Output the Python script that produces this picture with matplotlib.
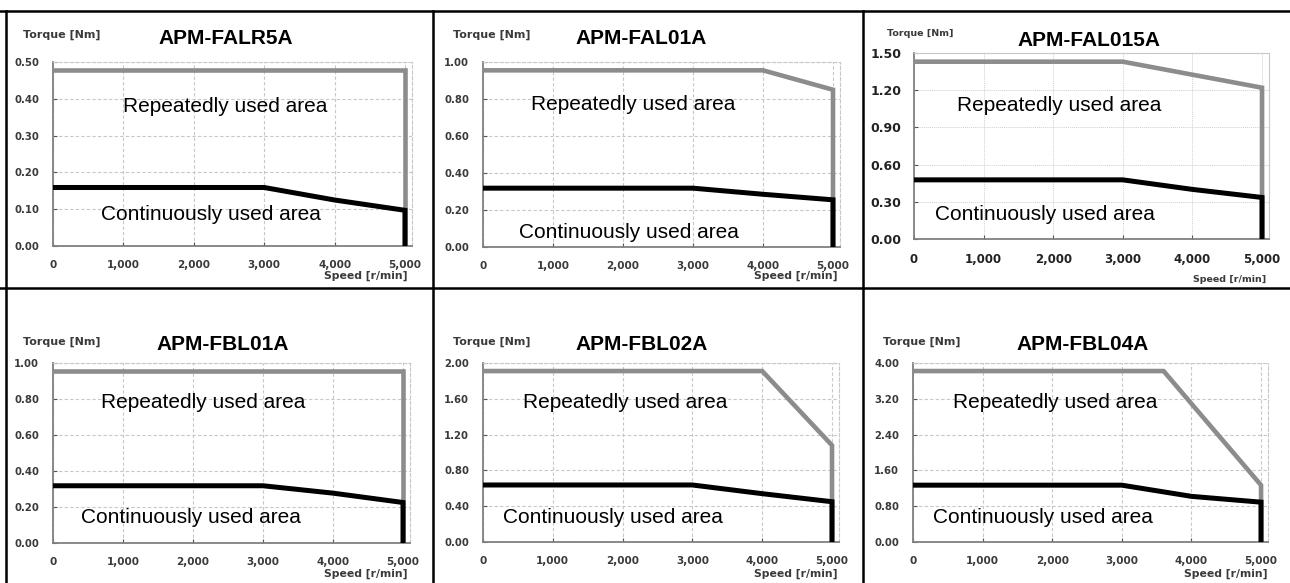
import matplotlib
matplotlib.use("Agg")
import matplotlib.pyplot as plt
from matplotlib.lines import Line2D

W, H = 1290, 583

# ---- data ----
models = ["APM-FALR5A", "APM-FAL01A", "APM-FAL015A",
          "APM-FBL01A", "APM-FBL02A", "APM-FBL04A"]

y_max = [0.50, 1.00, 1.50, 1.00, 2.00, 4.00]
y_step = [0.10, 0.20, 0.30, 0.20, 0.40, 0.80]
x_ticks = [0, 1000, 2000, 3000, 4000, 5000]

# repeatedly used (peak) torque curve
rep_speed = [
    [0, 5000, 5000],
    [0, 4000, 5000, 5000],
    [0, 3000, 5000, 5000],
    [0, 5000, 5000],
    [0, 4000, 5000, 5000],
    [0, 3600, 5000, 5000],
]
rep_torque = [
    [0.477, 0.477, 0.0],
    [0.955, 0.955, 0.85, 0.0],
    [1.43, 1.43, 1.22, 0.0],
    [0.955, 0.955, 0.0],
    [1.91, 1.91, 1.08, 0.0],
    [3.82, 3.82, 1.27, 0.0],
]

# continuously used (rated) torque curve
cont_speed = [0, 3000, 4000, 5000, 5000]
cont_torque = [
    [0.159, 0.159, 0.125, 0.097, 0.0],
    [0.318, 0.318, 0.285, 0.255, 0.0],
    [0.477, 0.477, 0.40, 0.335, 0.0],
    [0.318, 0.318, 0.277, 0.225, 0.0],
    [0.637, 0.637, 0.54, 0.45, 0.0],
    [1.27, 1.27, 1.02, 0.89, 0.0],
]

# label positions (axes fraction)
rep_label_pos = [(0.48, 0.76), (0.42, 0.77), (0.41, 0.72),
                 (0.42, 0.78), (0.40, 0.78), (0.40, 0.78)]
cont_label_pos = [(0.44, 0.17), (0.41, 0.08), (0.37, 0.13),
                  (0.385, 0.14), (0.365, 0.135), (0.365, 0.135)]

# ---- layout in pixels: axes box (left, top, right, bottom) ----
ax_boxes = [
    (53, 62, 412, 246),
    (483, 62, 840, 247),
    (914, 53, 1269, 239),
    (53, 363, 410, 543),
    (483, 363, 839, 542),
    (913, 363, 1268, 542),
]
title_xy = [(226, 39), (641, 39), (1089, 40), (223, 345), (642, 345), (1083, 345)]
torque_xy = [(23, 35), (453, 35), (887, 34), (23, 342), (453, 342), (883, 342)]
speed_xy = [(407, 276), (837, 276), (1266, 279), (407, 574), (837, 574), (1267, 574)]


def fx(x):
    return x / W


def fy(y):
    return 1 - y / H


fig = plt.figure(figsize=(W / 100, H / 100), dpi=100)
fig.patch.set_facecolor("white")

grey = "#8c8c8c"
grid_c = "#c8c8c8"
label_c = "#3a3a3a"

for i, m in enumerate(models):
    l, t, r, b = ax_boxes[i]
    ax = fig.add_axes([fx(l), fy(b), fx(r) - fx(l), fy(t) - fy(b)])
    special = (i == 2)

    ax.set_xlim(0, 5100)
    ax.set_ylim(0, y_max[i])
    yt = [round(k * y_step[i], 2) for k in range(6)]
    ax.set_yticks(yt)
    ax.set_xticks(x_ticks)
    ax.set_yticklabels([f"{v:.2f}" for v in yt])
    ax.set_xticklabels([f"{v:,}" for v in x_ticks])

    if special:
        ax.grid(True, color="#d0d0d0", linestyle=(0, (1, 1)), linewidth=0.7)
        fs_y, fs_x, tc = 9, 8.5, "#222222"
    else:
        ax.grid(True, color=grid_c, linestyle=(0, (3, 2)), linewidth=0.8)
        fs_y, fs_x, tc = 7.3, 7.5, label_c
    ax.set_axisbelow(True)

    for s in ("top", "right"):
        ax.spines[s].set_color(grid_c)
        ax.spines[s].set_linewidth(0.8)
        ax.spines[s].set_linestyle((0, (3, 2)) if not special else "-")
    for s in ("left", "bottom"):
        ax.spines[s].set_color("#808080")
        ax.spines[s].set_linewidth(1.3)

    ax.tick_params(axis="both", direction="in", length=3, width=0.8, color="#555555")
    ax.tick_params(axis="y", pad=10 if not special else 9, labelsize=fs_y, labelcolor=tc)
    ax.tick_params(axis="x", pad=10, labelsize=fs_x, labelcolor=tc)
    for lab in ax.get_xticklabels() + ax.get_yticklabels():
        lab.set_fontweight("bold")
        lab.set_family("DejaVu Sans")

    ax.plot(rep_speed[i], rep_torque[i], color=grey, lw=3.3,
            solid_joinstyle="miter", solid_capstyle="butt", zorder=3)
    ax.plot(cont_speed, cont_torque[i], color="black", lw=3.6,
            solid_joinstyle="miter", solid_capstyle="butt", zorder=4)

    ax.text(*rep_label_pos[i], "Repeatedly used area", transform=ax.transAxes,
            ha="center", va="center", fontsize=15, family="Liberation Sans", zorder=5)
    ax.text(*cont_label_pos[i], "Continuously used area", transform=ax.transAxes,
            ha="center", va="center", fontsize=15, family="Liberation Sans", zorder=5)

    fig.text(fx(title_xy[i][0]), fy(title_xy[i][1]), m, ha="center", va="center",
             fontsize=15, fontweight="bold", family="Liberation Sans")
    fig.text(fx(torque_xy[i][0]), fy(torque_xy[i][1]), "Torque [Nm]", ha="left",
             va="center", fontsize=6.8 if special else 8, fontweight="bold",
             color=label_c, family="DejaVu Sans")
    fig.text(fx(speed_xy[i][0]), fy(speed_xy[i][1]), "Speed [r/min]", ha="right",
             va="center", fontsize=6.8 if special else 7.8, fontweight="bold",
             color=label_c, family="DejaVu Sans")

# table frame lines
frame = [
    ((0, W), (11, 11)),
    ((0, W), (288, 288)),
    ((6, 6), (11, H)),
    ((433, 433), (11, H)),
    ((863, 863), (11, H)),
]
for xs, ys in frame:
    fig.add_artist(Line2D([fx(x) for x in xs], [fy(y) for y in ys],
                          color="black", lw=1.8))

fig.savefig("out.png", dpi=100)
